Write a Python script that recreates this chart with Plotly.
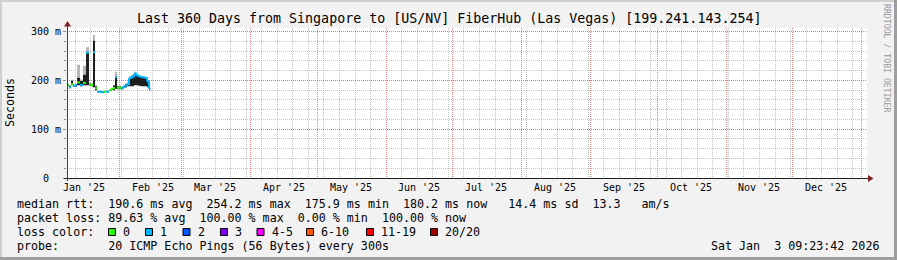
import math
import plotly.graph_objects as go
import pandas as pd

# ---------------- data ----------------
dates = [
    "2025-01-08 09:23", "2025-01-09 07:00", "2025-01-10 05:00", "2025-01-11 02:00",
    "2025-01-12 00:00", "2025-01-12 22:00", "2025-01-14 06:00", "2025-01-15 14:00",
    "2025-01-16 23:00", "2025-01-18 07:00", "2025-01-19 16:00", "2025-01-20 02:00",
    "2025-01-21 00:00", "2025-01-21 22:00", "2025-01-23 12:00", "2025-01-25 00:00",
    "2025-01-26 00:00", "2025-01-27 07:00", "2025-01-28 05:00", "2025-01-29 02:00",
    "2025-01-30 00:00", "2025-01-30 22:00", "2025-02-01 17:00", "2025-02-02 14:00",
    "2025-02-03 12:00", "2025-02-04 10:00", "2025-02-05 07:00", "2025-02-06 10:00",
    "2025-02-07 14:00", "2025-02-08 12:00", "2025-02-09 12:00", "2025-02-10 12:00",
    "2025-02-11 12:00", "2025-02-12 12:00", "2025-02-13 10:00", "2025-02-14 07:00",
]
data_end = "2025-02-14 20:00"
median_ms = [190, 186, 192, 189, 190, 196, 191, 195, 257, 191, 190, 258,
             184, 177, 176, 177, 177, 180, 183, 185, 207, 185, 184, 187,
             190, 192, 205, 208, 214, 210, 208, 207, 206, 205, 198, 183]
smoke_lo = [188, 184, 190, 187, 187, 190, 188, 190, 190, 189, 188, 186,
            180, 176, 175, 176, 176, 179, 181, 180, 183, 182, 182, 185,
            186, 188, 188, 188, 190, 190, 189, 188, 188, 188, 186, 180]
smoke_dense = [192, 189, 200, 191, 192, 206, 199, 212, 257, 194, 192, 282,
               188, 178, 177, 178, 178, 181, 184, 190, 207, 188, 186, 189,
               193, 195, 207, 210, 216, 211, 209, 208, 207, 206, 200, 185]
smoke_hi = [193, 190, 202, 192, 194, 232, 202, 230, 268, 195, 193, 293,
            190, 179, 178, 179, 179, 182, 185, 191, 218, 189, 187, 190,
            194, 196, 209, 212, 218, 213, 210, 209, 208, 207, 201, 186]
loss = [0, 1, 0, 1, 1, 0, 1, 0, 1, 0, 0, 1,
        0, 1, 1, 0, 1, 0, 0, 0, 1, 0, 1, 1,
        1, 1, 1, 1, 1, 1, 1, 1, 1, 1, 1, 1]

loss_labels = ["0", "1", "2", "3", "4-5", "6-10", "11-19", "20/20"]
loss_colors = ["#26ff00", "#00b8ff", "#0059ff", "#7e00ff", "#ff00ff", "#ff5500", "#ff0000", "#a10000"]

month_starts = ["2025-01-01", "2025-02-01", "2025-03-01", "2025-04-01", "2025-05-01", "2025-06-01",
                "2025-07-01", "2025-08-01", "2025-09-01", "2025-10-01", "2025-11-01", "2025-12-01",
                "2026-01-01"]
month_labels = ["Jan '25", "Feb '25", "Mar '25", "Apr '25", "May '25", "Jun '25",
                "Jul '25", "Aug '25", "Sep '25", "Oct '25", "Nov '25", "Dec '25", None]

y_ticks = [0, 100, 200, 300]
y_ticktext = ["0\u00a0\u00a0", "100 m", "200 m", "300 m"]

title = "Last 360 Days from Singapore to [US/NV] FiberHub (Las Vegas) [199.241.143.254]"
legend_lines = [
    "median rtt:  190.6 ms avg  254.2 ms max  175.9 ms min  180.2 ms now   14.4 ms sd  13.3   am/s",
    "packet loss: 89.63 % avg  100.00 % max  0.00 % min  100.00 % now",
    "loss color:",
    "probe:       20 ICMP Echo Pings (56 Bytes) every 300s",
]
stamp = "Sat Jan  3 09:23:42 2026"

# ---------------- geometry (pixels) ----------------
W, H = 897, 260
L, R, T, B = 67, 867, 28, 178
X_RANGE = ["2025-01-08 09:23:42", "2026-01-03 09:23:42"]
Y_RANGE = [0, 307.6]
def px(x): return (x - L) / (R - L)
def py(y): return (B - y) / (B - T)

MONO = "DejaVu Sans Mono"
def nb(s): return s.replace(" ", "\u00a0")

fig = go.Figure()

xs = dates + [data_end]
def ext(v): return list(v) + [v[-1]]

fig.add_trace(go.Scatter(x=xs, y=ext(smoke_lo), mode="lines", line=dict(width=0, shape="hv"),
                         hoverinfo="skip", showlegend=False))
fig.add_trace(go.Scatter(x=xs, y=ext(smoke_dense), mode="lines", line=dict(width=0, shape="hv"),
                         fill="tonexty", fillcolor="#1e1e1e", hoverinfo="skip", showlegend=False))
fig.add_trace(go.Scatter(x=xs, y=ext(smoke_hi), mode="lines", line=dict(width=0, shape="hv"),
                         fill="tonexty", fillcolor="#b4b4b4", hoverinfo="skip", showlegend=False))

# median line coloured by loss (no connector where the loss colour changes)
n = len(dates)
for li, col in enumerate(loss_colors):
    sx, sy = [], []
    for i in range(n):
        if loss[i] != li:
            continue
        nxt = xs[i + 1]
        sx += [dates[i], nxt]
        sy += [median_ms[i], median_ms[i]]
        if i + 1 < n and loss[i + 1] == li:
            sx += [nxt]
            sy += [median_ms[i + 1]]
        sx.append(None)
        sy.append(None)
    if sx:
        fig.add_trace(go.Scatter(x=sx, y=sy, mode="lines", line=dict(color=col, width=2),
                                 hoverinfo="skip", showlegend=False, connectgaps=False))

grid_minor = "rgba(143,143,143,0.55)"
grid_major = "rgba(222,79,79,0.6)"

fig.update_layout(
    width=W, height=H,
    margin=dict(l=L, r=W - R, t=T, b=H - B, pad=0),
    paper_bgcolor="#f2f2f2", plot_bgcolor="#ffffff",
    showlegend=False,
    font=dict(family=MONO, color="#000000"),
    xaxis=dict(
        type="date", range=X_RANGE,
        dtick="M1", tick0="2025-01-01",
        showgrid=False,
        minor=dict(dtick=7 * 86400000, tick0="2025-01-12", showgrid=True,
                   gridcolor=grid_minor, griddash="1px,1px", gridwidth=1),
        showline=False, zeroline=False, ticks="", showticklabels=False,
        fixedrange=True,
    ),
    yaxis=dict(
        range=Y_RANGE,
        tickvals=y_ticks, ticktext=y_ticktext,
        showgrid=True, gridcolor=grid_major, griddash="1px,1px", gridwidth=1,
        minor=dict(dtick=20, tick0=0, showgrid=True, gridcolor=grid_minor,
                   griddash="1px,1px", gridwidth=1, ticks="outside", ticklen=2,
                   tickcolor="#8f8f8f"),
        ticks="outside", ticklen=3, tickcolor="#8f8f8f",
        showline=False, zeroline=False,
        tickfont=dict(family=MONO, size=10, color="#000000"),
        fixedrange=True,
    ),
)

shapes = []
def pline(x0, y0, x1, y1, color, width=1, dash="solid"):
    shapes.append(dict(type="line", xref="paper", yref="paper",
                       x0=px(x0), y0=py(y0), x1=px(x1), y1=py(y1),
                       line=dict(color=color, width=width, dash=dash)))
def prect(x0, y0, x1, y1, fill, line_color=None, lw=0):
    shapes.append(dict(type="rect", xref="paper", yref="paper",
                       x0=px(x0), y0=py(y0), x1=px(x1), y1=py(y1),
                       fillcolor=fill, line=dict(color=line_color or fill, width=lw), layer="above"))
def ppath(pts, color):
    d = "M " + " L ".join(f"{px(a)},{py(b)}" for a, b in pts) + " Z"
    shapes.append(dict(type="path", xref="paper", yref="paper", path=d,
                       fillcolor=color, line=dict(color=color, width=0), layer="above"))

# month (major) vertical grid lines, snapped to pixel centres like rrdtool does
x0_ts, x1_ts = pd.Timestamp(X_RANGE[0]), pd.Timestamp(X_RANGE[1])
span = (x1_ts - x0_ts).total_seconds()
for ms in month_starts:
    ts = pd.Timestamp(ms)
    if x0_ts < ts < x1_ts:
        xpix = L + (ts - x0_ts).total_seconds() / span * (R - L)
        xs_ = math.floor(xpix) + 0.5
        pline(xs_, T, xs_, B, "rgba(225,80,80,0.7)", 1, "1px,1px")

# frame shading
prect(0, 0, W, 2, "#cfcfcf")
prect(0, 0, 2, H, "#cfcfcf")
prect(0, H - 3, W, H, "#9e9e9e")
prect(W - 3, 0, W, H, "#9e9e9e")

# axes with arrows
pline(64, 178.5, 869, 178.5, "#1f1f1f", 1)
pline(67.5, 181, 67.5, 26, "#404040", 1)
ppath([(873.5, 178.5), (868, 175), (868, 182)], "#801f1f")
ppath([(67.5, 21), (64, 26.5), (71, 26.5)], "#801f1f")

# loss colour boxes
box_x = [108, 145, 182.5, 220, 256.5, 306, 366, 430]
for bx, col in zip(box_x, loss_colors):
    prect(bx + 0.5, 228.5, bx + 7.5, 235.5, col, "#000000", 1)

annotations = []
def text(x, y, s, size=11.67, anchor="left", color="#000000", angle=0):
    annotations.append(dict(text=nb(s), xref="paper", yref="paper", x=px(x), y=py(y),
                            xanchor=anchor, yanchor="middle", showarrow=False,
                            textangle=angle, borderpad=0,
                            font=dict(family=MONO, size=size, color=color)))

# month labels centred 15 days after each month start (rrdtool style)
for ms, lab in zip(month_starts, month_labels):
    if lab is None:
        continue
    mid = (pd.Timestamp(ms) + pd.Timedelta(days=15)).strftime("%Y-%m-%d")
    annotations.append(dict(text=nb(lab), xref="x", yref="paper", x=mid, y=py(187),
                            xanchor="center", yanchor="middle", showarrow=False, borderpad=0,
                            font=dict(family=MONO, size=10, color="#000000")))

text(448.5, 19, title, size=13.3, anchor="center")
text(10, 103, "Seconds", anchor="center", angle=-90)
text(887, 59, "RRDTOOL / TOBI OETIKER", size=8.2, anchor="center", color="#9a9a9a", angle=90)
for i, line in enumerate(legend_lines):
    text(16, 204 + 14 * i, line)
for bx, lab in zip(box_x, loss_labels):
    text(bx + 14, 232, lab)
text(880, 246, stamp, anchor="right")

fig.update_layout(shapes=shapes, annotations=annotations)
fig.write_html("out.html")
